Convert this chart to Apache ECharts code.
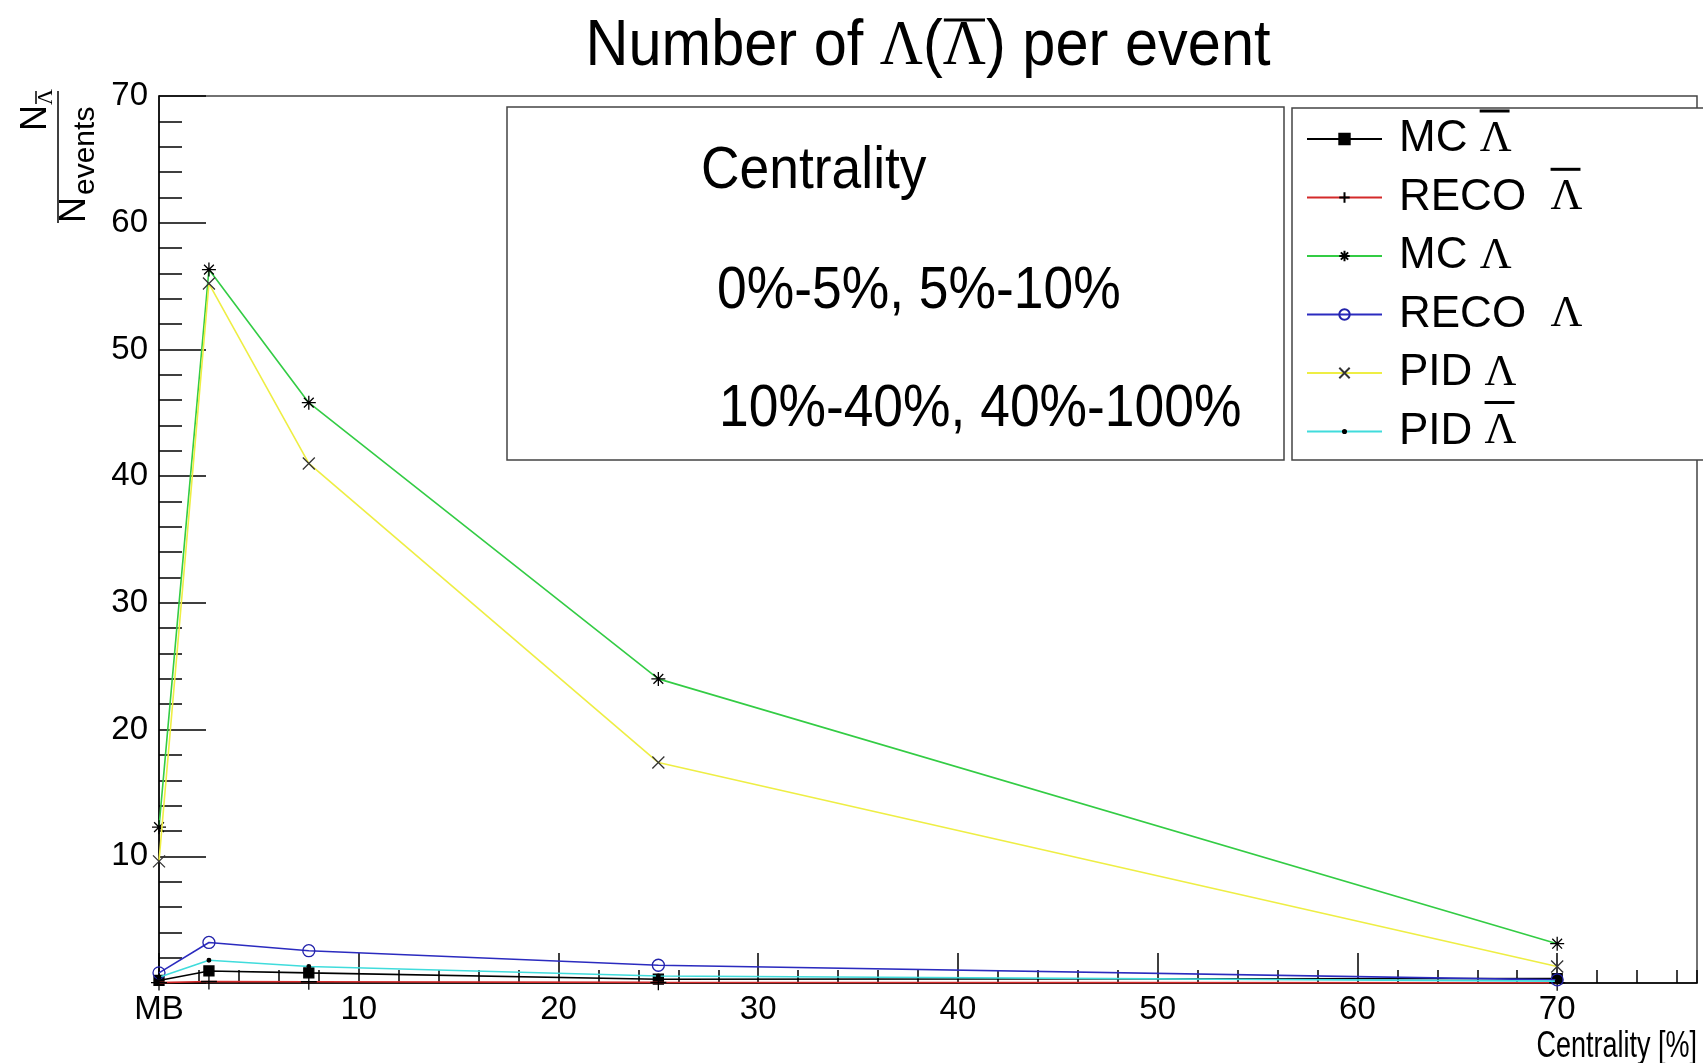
<!DOCTYPE html>
<html><head><meta charset="utf-8">
<script src="https://cdn.jsdelivr.net/npm/echarts@6/dist/echarts.min.js"></script>
<style>html,body{margin:0;padding:0;background:#fff}#c{width:1703px;height:1063px}</style>
</head><body><div id="c"></div>
<script>
// ---- data ----
const centrality = [0, 2.5, 7.5, 25, 70];
const xTickLabels = ['MB', '10', '20', '30', '40', '50', '60', '70'];
const yTickLabels = ['', '10', '20', '30', '40', '50', '60', '70'];
const mcAntiLambda   = [0.2, 0.95, 0.8, 0.3, 0.35];
const recoAntiLambda = [0.03, 0.12, 0.1, 0.05, 0.02];
const mcLambda       = [12.3, 56.3, 45.8, 24.0, 3.1];
const recoLambda     = [0.8, 3.2, 2.55, 1.4, 0.25];
const pidLambda      = [9.6, 55.2, 41.0, 17.4, 1.3];
const pidAntiLambda  = [0.45, 1.8, 1.3, 0.55, 0.15];

const AL = '\u039b', BAR = '\u0305';
const seriesNames = ['MC ' + AL + BAR, 'RECO  ' + AL + BAR, 'MC ' + AL, 'RECO  ' + AL, 'PID ' + AL, 'PID ' + AL + BAR];
const seriesValues = [mcAntiLambda, recoAntiLambda, mcLambda, recoLambda, pidLambda, pidAntiLambda];

const SANS = "'Liberation Sans', Arial, sans-serif";
const SERIF = "'Liberation Serif', 'DejaVu Serif', serif";

const looks = [
  {line: '#000000', symbol: 'rect', size: 10, fill: '#000', stroke: '#000'},
  {line: '#d42a2a', symbol: 'path://M0,5L10,5M5,0L5,10', size: 16, fill: 'transparent', stroke: '#000'},
  {line: '#33cc44', symbol: 'path://M0,5L10,5M5,0L5,10M1.5,1.5L8.5,8.5M8.5,1.5L1.5,8.5', size: 14, fill: 'transparent', stroke: '#000'},
  {line: '#2b2bbf', symbol: 'circle', size: 12, fill: 'transparent', stroke: '#2222aa'},
  {line: '#eeee44', symbol: 'path://M0,0L10,10M10,0L0,10', size: 12, fill: 'transparent', stroke: '#333'},
  {line: '#40dcdc', symbol: 'path://M0,0M10,10M3.5,5a1.5,1.5 0 1,0 3,0a1.5,1.5 0 1,0 -3,0', size: 12, fill: '#000', stroke: '#000'}
];

const series = seriesNames.map((name, k) => ({
  name: name,
  type: 'line',
  xAxisIndex: 0, yAxisIndex: 0,
  data: centrality.map((x, i) => [x, seriesValues[k][i]]),
  symbol: looks[k].symbol,
  symbolSize: looks[k].size,
  clip: false,
  z: 3 + k,
  lineStyle: {color: looks[k].line, width: 1.6},
  itemStyle: {color: looks[k].fill, borderColor: looks[k].stroke, borderWidth: 1.3},
  emphasis: {disabled: true}
}));

// text measuring for hand-placed overlines
const mctx = document.createElement('canvas').getContext('2d');
function tw(text, size, fam) { mctx.font = size + 'px ' + fam; return mctx.measureText(text).width; }

// title geometry
const TS = 64, TSX = 0.93, TX = 928, TY = 47;
const tParts = [['Number of ', SANS], [AL, SERIF], ['(', SANS], [AL, SERIF], [') per event', SANS]];
const tW = tParts.reduce((s, p) => s + tw(p[0], TS, p[1]), 0);
const tBarX = TX - TSX * tW / 2 + TSX * (tw(tParts[0][0], TS, SANS) + tw(AL, TS, SERIF) + tw('(', TS, SANS));
const tBarW = TSX * tw(AL, TS, SERIF);

// legend geometry
const LF = 44, LTEXT = 1398, LGAP = 14.5, LROW0 = 138, LSTEP = 43.8 + LGAP;
const legendBars = [];
seriesNames.forEach((n, i) => {
  if (n.indexOf(BAR) < 0) return;
  const pre = n.slice(0, n.indexOf(AL));
  const x0 = LTEXT + tw(pre, LF, SANS);
  const yb = LROW0 + LSTEP * i - 27;
  legendBars.push({type: 'line', z: 30, shape: {x1: x0 + 1, y1: yb, x2: x0 + tw(AL, LF, SERIF) - 1, y2: yb},
    style: {stroke: '#000', lineWidth: 3}});
});

const chart = echarts.init(document.getElementById('c'), null, {renderer: 'canvas'});
const tickStyle = {color: '#000', width: 1.5};
chart.setOption({
  animation: false,
  backgroundColor: '#fff',
  grid: {left: 159, right: 6, top: 96, bottom: 80, show: true, borderColor: '#444', borderWidth: 1.5, backgroundColor: 'transparent'},
  xAxis: [
    {type: 'value', min: 0, max: 77, interval: 10, position: 'bottom',
     axisLine: {show: true, onZero: false, lineStyle: {color: '#000', width: 1.5}},
     axisTick: {show: true, inside: true, length: 30, lineStyle: tickStyle},
     axisLabel: {fontFamily: SANS, fontSize: 33, color: '#000', margin: 10, showMaxLabel: false,
       formatter: v => (v % 10 === 0 && v / 10 < xTickLabels.length) ? xTickLabels[v / 10] : ''},
     splitLine: {show: false}},
    {type: 'value', min: 0, max: 77, interval: 2, position: 'bottom',
     axisLine: {show: false}, axisTick: {show: true, inside: true, length: 13, lineStyle: tickStyle},
     axisLabel: {show: false}, splitLine: {show: false}}
  ],
  yAxis: [
    {type: 'value', min: 0, max: 70, interval: 10, position: 'left',
     axisLine: {show: true, onZero: false, lineStyle: {color: '#000', width: 1.5}},
     axisTick: {show: true, inside: true, length: 47, lineStyle: tickStyle},
     axisLabel: {fontFamily: SANS, fontSize: 33, color: '#000', margin: 11,
       formatter: v => yTickLabels[Math.round(v / 10)]},
     splitLine: {show: false}},
    {type: 'value', min: 0, max: 70, interval: 2, position: 'left',
     axisLine: {show: false}, axisTick: {show: true, inside: true, length: 23, lineStyle: tickStyle},
     axisLabel: {show: false}, splitLine: {show: false}}
  ],
  legend: {
    orient: 'vertical', left: 1301, top: 112, z: 20,
    itemWidth: 75, itemHeight: 13, itemGap: LGAP, align: 'left',
    data: seriesNames,
    formatter: name => { const s = name.replace(BAR, ''); const i = s.indexOf(AL); return '{a|' + s.slice(0, i) + '}{b|' + s.slice(i) + '}'; },
    textStyle: {color: '#000', padding: [0, 0, 0, 12],
      rich: {a: {fontFamily: SANS, fontSize: LF, color: '#000'},
             b: {fontFamily: SERIF, fontSize: LF, color: '#000'}}}
  },
  series: series,
  graphic: [
    {type: 'text', x: TX, y: TY, scaleX: TSX, z: 10,
     style: {text: '{a|Number of }{b|' + AL + '}{a|(}{b|' + AL + '}{a|) per event}', align: 'center', verticalAlign: 'middle', fill: '#000',
       rich: {a: {fontFamily: SANS, fontSize: TS}, b: {fontFamily: SERIF, fontSize: TS}}}},
    {type: 'line', z: 10, shape: {x1: tBarX + 1, y1: 20, x2: tBarX + tBarW - 1, y2: 20}, style: {stroke: '#000', lineWidth: 3}},
    {type: 'group', x: 58, y: 157, rotation: Math.PI / 2, z: 10, children: [
      {type: 'line', shape: {x1: -66, y1: 0, x2: 66, y2: 0}, style: {stroke: '#000', lineWidth: 1.5}},
      {type: 'text', x: -66, y: 17, style: {text: 'N', fontFamily: SANS, fontSize: 36, align: 'left', verticalAlign: 'middle', fill: '#000'}},
      {type: 'text', x: -38, y: 28, style: {text: 'events', fontFamily: SANS, fontSize: 30, align: 'left', verticalAlign: 'middle', fill: '#000'}},
      {type: 'text', x: 26, y: -22, style: {text: 'N', fontFamily: SANS, fontSize: 36, align: 'left', verticalAlign: 'middle', fill: '#000'}},
      {type: 'text', x: 52, y: -12, style: {text: AL, fontFamily: SERIF, fontSize: 22, align: 'left', verticalAlign: 'middle', fill: '#000'}},
      {type: 'line', shape: {x1: 53, y1: -22, x2: 66, y2: -22}, style: {stroke: '#000', lineWidth: 1.5}}
    ]},
    {type: 'text', x: 1697, y: 1047, scaleX: 0.75, z: 10,
     style: {text: 'Centrality [%]', fontFamily: SANS, fontSize: 36, align: 'right', verticalAlign: 'middle', fill: '#000'}},
    {type: 'rect', z: 15, shape: {x: 507, y: 107, width: 777, height: 353}, style: {fill: '#fff', stroke: '#444', lineWidth: 1.5}},
    {type: 'text', x: 701, y: 171, scaleX: 0.89, z: 16,
     style: {text: 'Centrality', fontFamily: SANS, fontSize: 60, align: 'left', verticalAlign: 'middle', fill: '#000'}},
    {type: 'text', x: 717, y: 291, scaleX: 0.89, z: 16,
     style: {text: '0%-5%, 5%-10%', fontFamily: SANS, fontSize: 60, align: 'left', verticalAlign: 'middle', fill: '#000'}},
    {type: 'text', x: 719, y: 409, scaleX: 0.89, z: 16,
     style: {text: '10%-40%, 40%-100%', fontFamily: SANS, fontSize: 60, align: 'left', verticalAlign: 'middle', fill: '#000'}},
    {type: 'rect', z: 15, shape: {x: 1292, y: 108, width: 440, height: 352}, style: {fill: '#fff', stroke: '#444', lineWidth: 1.5}}
  ].concat(legendBars)
});
</script></body></html>
